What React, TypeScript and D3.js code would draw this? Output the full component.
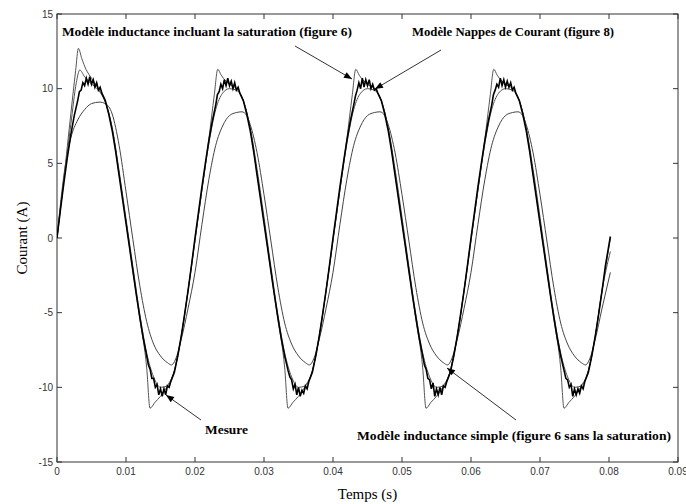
import React from "react";
import * as d3 from "d3";

// ---------- data ----------
const xTicks = [0, 0.01, 0.02, 0.03, 0.04, 0.05, 0.06, 0.07, 0.08, 0.09];
const xTickLabels = ["0", "0.01", "0.02", "0.03", "0.04", "0.05", "0.06", "0.07", "0.08", "0.09"];
const yTicks = [-15, -10, -5, 0, 5, 10, 15];
const yTickLabels = ["-15", "-10", "-5", "0", "5", "10", "15"];

// Mesure (measured current, noisy)
const mesure: [number, number][] = [
  [0, 0], [0.0005, 1.9], [0.001, 3.7], [0.0015, 5.4], [0.002, 6.9], [0.0025, 8.2], [0.003, 9.2],
  [0.00325, 9.8], [0.0035, 9.9], [0.00375, 10.4], [0.004, 10.2], [0.00425, 10.7], [0.0045, 10.3], [0.00475, 10.8], [0.005, 10.3], [0.00525, 10.6], [0.0055, 10.1], [0.00575, 10.4], [0.006, 9.9], [0.00625, 10.1], [0.0065, 9.7],
  [0.007, 9.2], [0.0075, 8.3], [0.008, 7.2], [0.0085, 5.8], [0.009, 4.2], [0.0095, 2.6], [0.01, 1.0], [0.0105, -0.6], [0.011, -2.2], [0.0115, -3.8], [0.012, -5.3], [0.0125, -6.7], [0.013, -7.9],
  [0.01325, -8.5], [0.0135, -8.8], [0.01375, -9.4], [0.014, -9.4], [0.01425, -10.0], [0.0145, -9.8], [0.01475, -10.5], [0.015, -10.1], [0.01525, -10.6], [0.0155, -10.1], [0.01575, -10.5], [0.016, -9.9], [0.01625, -10.0], [0.0165, -9.6],
  [0.017, -9.0], [0.0175, -7.9], [0.018, -6.6], [0.0185, -5.1], [0.019, -3.5], [0.0195, -1.8],
  [0.02, 0.0], [0.0205, 1.7], [0.021, 3.4], [0.0215, 5.0], [0.022, 6.5], [0.0225, 7.8], [0.023, 8.9],
  [0.02325, 9.6], [0.0235, 9.8], [0.02375, 10.3], [0.024, 10.0], [0.02425, 10.6], [0.0245, 10.2], [0.02475, 10.7], [0.025, 10.2], [0.02525, 10.5], [0.0255, 10.0], [0.02575, 10.4], [0.026, 9.9], [0.02625, 10.1], [0.0265, 9.7],
  [0.027, 9.2], [0.0275, 8.3], [0.028, 7.2], [0.0285, 5.8], [0.029, 4.2], [0.0295, 2.6], [0.03, 1.0], [0.0305, -0.6], [0.031, -2.2], [0.0315, -3.8], [0.032, -5.3], [0.0325, -6.7], [0.033, -7.9],
  [0.03325, -8.4], [0.0335, -8.9], [0.03375, -9.3], [0.034, -9.5], [0.03425, -10.1], [0.0345, -9.8], [0.03475, -10.5], [0.035, -10.0], [0.03525, -10.6], [0.0355, -10.2], [0.03575, -10.4], [0.036, -9.9], [0.03625, -10.1], [0.0365, -9.6],
  [0.037, -9.0], [0.0375, -7.9], [0.038, -6.6], [0.0385, -5.1], [0.039, -3.5], [0.0395, -1.8],
  [0.04, 0.0], [0.0405, 1.7], [0.041, 3.4], [0.0415, 5.0], [0.042, 6.5], [0.0425, 7.8], [0.043, 8.9],
  [0.04325, 9.5], [0.0435, 9.9], [0.04375, 10.4], [0.044, 10.0], [0.04425, 10.7], [0.0445, 10.1], [0.04475, 10.6], [0.045, 10.2], [0.04525, 10.6], [0.0455, 10.0], [0.04575, 10.3], [0.046, 9.9], [0.04625, 10.0], [0.0465, 9.7],
  [0.047, 9.2], [0.0475, 8.3], [0.048, 7.2], [0.0485, 5.8], [0.049, 4.2], [0.0495, 2.6], [0.05, 1.0], [0.0505, -0.6], [0.051, -2.2], [0.0515, -3.8], [0.052, -5.3], [0.0525, -6.7], [0.053, -7.9],
  [0.05325, -8.5], [0.0535, -8.8], [0.05375, -9.4], [0.054, -9.5], [0.05425, -10.1], [0.0545, -9.7], [0.05475, -10.6], [0.055, -10.1], [0.05525, -10.5], [0.0555, -10.0], [0.05575, -10.5], [0.056, -9.9], [0.05625, -10.0], [0.0565, -9.6],
  [0.057, -9.0], [0.0575, -7.9], [0.058, -6.6], [0.0585, -5.1], [0.059, -3.5], [0.0595, -1.8],
  [0.06, 0.0], [0.0605, 1.7], [0.061, 3.4], [0.0615, 5.0], [0.062, 6.5], [0.0625, 7.8], [0.063, 8.9],
  [0.06325, 9.6], [0.0635, 9.9], [0.06375, 10.3], [0.064, 10.1], [0.06425, 10.7], [0.0645, 10.2], [0.06475, 10.6], [0.065, 10.1], [0.06525, 10.5], [0.0655, 10.1], [0.06575, 10.4], [0.066, 9.9], [0.06625, 10.1], [0.0665, 9.7],
  [0.067, 9.2], [0.0675, 8.3], [0.068, 7.2], [0.0685, 5.8], [0.069, 4.2], [0.0695, 2.6], [0.07, 1.0], [0.0705, -0.6], [0.071, -2.2], [0.0715, -3.8], [0.072, -5.3], [0.0725, -6.7], [0.073, -7.9],
  [0.07325, -8.4], [0.0735, -8.9], [0.07375, -9.4], [0.074, -9.5], [0.07425, -10.0], [0.0745, -9.8], [0.07475, -10.6], [0.075, -10.1], [0.07525, -10.5], [0.0755, -10.1], [0.07575, -10.4], [0.076, -9.9], [0.07625, -10.1], [0.0765, -9.6],
  [0.077, -9.0], [0.0775, -7.9], [0.078, -6.6], [0.0785, -5.1], [0.079, -3.5], [0.0795, -1.8], [0.0802, 0.1],
];

// Modèle inductance incluant la saturation
const saturation: [number, number][] = [
  [0, 0], [0.001, 4.0], [0.002, 8.3], [0.0027, 11.2], [0.0031, 12.7], [0.0036, 12.0], [0.0042, 11.3], [0.005, 10.7], [0.006, 10.0], [0.007, 9.1], [0.008, 7.3], [0.009, 4.3], [0.01, 1.1], [0.011, -2.2], [0.012, -5.4], [0.013, -8.7], [0.01348, -11.4], [0.0142, -11.0], [0.015, -10.6], [0.016, -9.9], [0.017, -8.9], [0.018, -6.6], [0.019, -3.5],
  [0.02, -0.2], [0.021, 3.2], [0.022, 6.6], [0.0228, 9.6], [0.0233, 11.3], [0.0238, 10.9], [0.0245, 10.5], [0.025, 10.3], [0.026, 10.0], [0.027, 9.2], [0.028, 7.3], [0.029, 4.3], [0.03, 1.1], [0.031, -2.2], [0.032, -5.4], [0.033, -8.7], [0.03348, -11.4], [0.0342, -11.0], [0.035, -10.6], [0.036, -9.9], [0.037, -8.9], [0.038, -6.6], [0.039, -3.5],
  [0.04, -0.2], [0.041, 3.2], [0.042, 6.6], [0.0428, 9.6], [0.0433, 11.3], [0.0438, 10.9], [0.0445, 10.5], [0.045, 10.3], [0.046, 10.0], [0.047, 9.2], [0.048, 7.3], [0.049, 4.3], [0.05, 1.1], [0.051, -2.2], [0.052, -5.4], [0.053, -8.7], [0.05348, -11.4], [0.0542, -11.0], [0.055, -10.6], [0.056, -9.9], [0.057, -8.9], [0.058, -6.6], [0.059, -3.5],
  [0.06, -0.2], [0.061, 3.2], [0.062, 6.6], [0.0628, 9.6], [0.0633, 11.3], [0.0638, 10.9], [0.0645, 10.5], [0.065, 10.3], [0.066, 10.0], [0.067, 9.2], [0.068, 7.3], [0.069, 4.3], [0.07, 1.1], [0.071, -2.2], [0.072, -5.4], [0.073, -8.7], [0.07348, -11.4], [0.0742, -11.0], [0.075, -10.6], [0.076, -9.9], [0.077, -8.9], [0.078, -6.6], [0.079, -3.5], [0.0802, -0.9],
];

// Modèle Nappes de Courant
const nappes: [number, number][] = [
  [0, 0], [0.001, 3.9], [0.002, 7.6], [0.0028, 10.4], [0.0033, 11.25], [0.004, 10.8], [0.0048, 10.4], [0.006, 9.9], [0.007, 9.1], [0.008, 7.4], [0.009, 4.5], [0.01, 1.3], [0.011, -1.9], [0.012, -5.1], [0.013, -7.7], [0.014, -9.3], [0.015, -10.0], [0.016, -9.9], [0.017, -8.9], [0.018, -6.6], [0.019, -3.5],
  [0.02, -0.1], [0.021, 3.2], [0.022, 6.3], [0.023, 8.6], [0.024, 9.7], [0.025, 10.0], [0.026, 9.9], [0.027, 9.2], [0.028, 7.4], [0.029, 4.6], [0.03, 1.4], [0.031, -1.9], [0.032, -5.1], [0.033, -7.7], [0.034, -9.3], [0.035, -10.0], [0.036, -9.9], [0.037, -8.9], [0.038, -6.6], [0.039, -3.5],
  [0.04, -0.1], [0.041, 3.2], [0.042, 6.3], [0.043, 8.6], [0.044, 9.7], [0.045, 10.0], [0.046, 9.9], [0.047, 9.2], [0.048, 7.4], [0.049, 4.6], [0.05, 1.4], [0.051, -1.9], [0.052, -5.1], [0.053, -7.7], [0.054, -9.3], [0.055, -10.0], [0.056, -9.9], [0.057, -8.9], [0.058, -6.6], [0.059, -3.5],
  [0.06, -0.1], [0.061, 3.2], [0.062, 6.3], [0.063, 8.6], [0.064, 9.7], [0.065, 10.0], [0.066, 9.9], [0.067, 9.2], [0.068, 7.4], [0.069, 4.6], [0.07, 1.4], [0.071, -1.9], [0.072, -5.1], [0.073, -7.7], [0.074, -9.3], [0.075, -10.0], [0.076, -9.9], [0.077, -8.9], [0.078, -6.6], [0.079, -3.5], [0.0802, 0.0],
];

// Modèle inductance simple (sans saturation)
const simple: [number, number][] = [
  [0, 0], [0.001, 4.2], [0.002, 6.7], [0.003, 7.9], [0.004, 8.6], [0.005, 9.0], [0.0062, 9.1], [0.007, 9.0], [0.008, 8.3], [0.009, 6.2], [0.01, 3.1], [0.011, -0.1], [0.012, -3.2], [0.013, -5.6], [0.014, -7.1], [0.015, -7.9], [0.016, -8.35], [0.0166, -8.5], [0.0172, -8.1], [0.018, -6.8], [0.019, -4.7],
  [0.02, -2.3], [0.021, 0.9], [0.022, 3.9], [0.023, 6.2], [0.024, 7.5], [0.025, 8.2], [0.026, 8.4], [0.0268, 8.45], [0.0275, 8.2], [0.028, 7.6], [0.029, 5.7], [0.03, 2.9], [0.031, -0.2], [0.032, -3.3], [0.033, -5.7], [0.034, -7.1], [0.035, -7.9], [0.036, -8.35], [0.0366, -8.5], [0.0372, -8.1], [0.038, -6.8], [0.039, -4.7],
  [0.04, -2.3], [0.041, 0.9], [0.042, 3.9], [0.043, 6.2], [0.044, 7.5], [0.045, 8.2], [0.046, 8.4], [0.0468, 8.45], [0.0475, 8.2], [0.048, 7.6], [0.049, 5.7], [0.05, 2.9], [0.051, -0.2], [0.052, -3.3], [0.053, -5.7], [0.054, -7.1], [0.055, -7.9], [0.056, -8.35], [0.0566, -8.5], [0.0572, -8.1], [0.058, -6.8], [0.059, -4.7],
  [0.06, -2.3], [0.061, 0.9], [0.062, 3.9], [0.063, 6.2], [0.064, 7.5], [0.065, 8.2], [0.066, 8.4], [0.0668, 8.45], [0.0675, 8.2], [0.068, 7.6], [0.069, 5.7], [0.07, 2.9], [0.071, -0.2], [0.072, -3.3], [0.073, -5.7], [0.074, -7.1], [0.075, -7.9], [0.076, -8.35], [0.0766, -8.5], [0.0772, -8.1], [0.078, -6.8], [0.079, -4.7], [0.0802, -2.3],
];

// annotations: text + arrow (from -> to), in pixels
const annotations = [
  { text: "Modèle inductance incluant la saturation (figure 6)", x: 62, y: 36, w: 290, from: [295, 46], to: [352, 79] },
  { text: "Modèle Nappes de Courant (figure 8)", x: 412, y: 36, w: 202, from: [441, 50], to: [375, 89] },
  { text: "Mesure", x: 205, y: 434, w: 43, from: [201, 420], to: [166, 395] },
  { text: "Modèle inductance simple (figure 6 sans la saturation)", x: 357, y: 440, w: 314, from: [516, 420], to: [447, 368] },
];

// ---------- layout ----------
const W = 686;
const H = 504;
const L = 57, R = 678, T = 14, B = 462;

export default function App() {
  const x = d3.scaleLinear().domain([0, 0.09]).range([L, R]);
  const y = d3.scaleLinear().domain([-15, 15]).range([B, T]);
  const smooth = d3.line<[number, number]>().x((d) => x(d[0])).y((d) => y(d[1])).curve(d3.curveMonotoneX);
  const raw = d3.line<[number, number]>().x((d) => x(d[0])).y((d) => y(d[1]));
  const axisColor = "#333";
  const tickLen = 5;

  const arrowHead = (from: number[], to: number[]) => {
    const dx = to[0] - from[0];
    const dy = to[1] - from[1];
    const len = Math.hypot(dx, dy);
    const ux = dx / len, uy = dy / len;
    const hl = 8, hw = 3.2;
    const bx = to[0] - ux * hl, by = to[1] - uy * hl;
    return `${to[0]},${to[1]} ${bx - uy * hw},${by + ux * hw} ${bx + uy * hw},${by - ux * hw}`;
  };

  return (
    <svg width={W} height={H} style={{ position: "absolute", left: 0, top: 0, background: "#fff" }}>
      <rect x={0} y={0} width={W} height={H} fill="#fff" />
      <defs>
        <clipPath id="plot">
          <rect x={L} y={T} width={R - L} height={B - T} />
        </clipPath>
      </defs>
      {/* frame */}
      <rect x={L} y={T} width={R - L} height={B - T} fill="none" stroke={axisColor} strokeWidth={1} />
      {xTicks.map((t, i) => (
        <g key={"x" + i}>
          <line x1={x(t)} x2={x(t)} y1={B} y2={B - tickLen} stroke={axisColor} />
          <line x1={x(t)} x2={x(t)} y1={T} y2={T + tickLen} stroke={axisColor} />
          <text x={x(t)} y={B + 13} textAnchor="middle" fontFamily="Liberation Sans, Arial, sans-serif" fontSize={10} fill="#333">
            {xTickLabels[i]}
          </text>
        </g>
      ))}
      {yTicks.map((v, i) => (
        <g key={"y" + i}>
          <line x1={L} x2={L + tickLen} y1={y(v)} y2={y(v)} stroke={axisColor} />
          <line x1={R} x2={R - tickLen} y1={y(v)} y2={y(v)} stroke={axisColor} />
          <text x={L - 4} y={y(v) + 3.5} textAnchor="end" fontFamily="Liberation Sans, Arial, sans-serif" fontSize={10} fill="#333">
            {yTickLabels[i]}
          </text>
        </g>
      ))}
      {/* curves */}
      <g clipPath="url(#plot)" fill="none">
        <path d={smooth(simple) || ""} stroke="#444" strokeWidth={1} />
        <path d={smooth(saturation) || ""} stroke="#555" strokeWidth={1} />
        <path d={smooth(nappes) || ""} stroke="#555" strokeWidth={1} />
        <path d={raw(mesure) || ""} stroke="#000" strokeWidth={1.6} strokeLinejoin="miter" />
      </g>
      {/* annotations */}
      {annotations.map((a, i) => (
        <g key={"a" + i}>
          <line x1={a.from[0]} y1={a.from[1]} x2={a.to[0]} y2={a.to[1]} stroke="#333" strokeWidth={1} />
          <polygon points={arrowHead(a.from, a.to)} fill="#000" />
          <text x={a.x} y={a.y} textLength={a.w} lengthAdjust="spacingAndGlyphs" fontFamily="Liberation Serif, Times New Roman, serif" fontWeight="bold" fontSize={13} fill="#000">
            {a.text}
          </text>
        </g>
      ))}
      {/* axis titles */}
      <text x={(L + R) / 2} y={499} textAnchor="middle" fontFamily="Liberation Serif, Times New Roman, serif" fontSize={15} fill="#000">
        Temps (s)
      </text>
      <text transform={`translate(27,${(T + B) / 2}) rotate(-90)`} textAnchor="middle" fontFamily="Liberation Serif, Times New Roman, serif" fontSize={15} fill="#000">
        Courant (A)
      </text>
    </svg>
  );
}
